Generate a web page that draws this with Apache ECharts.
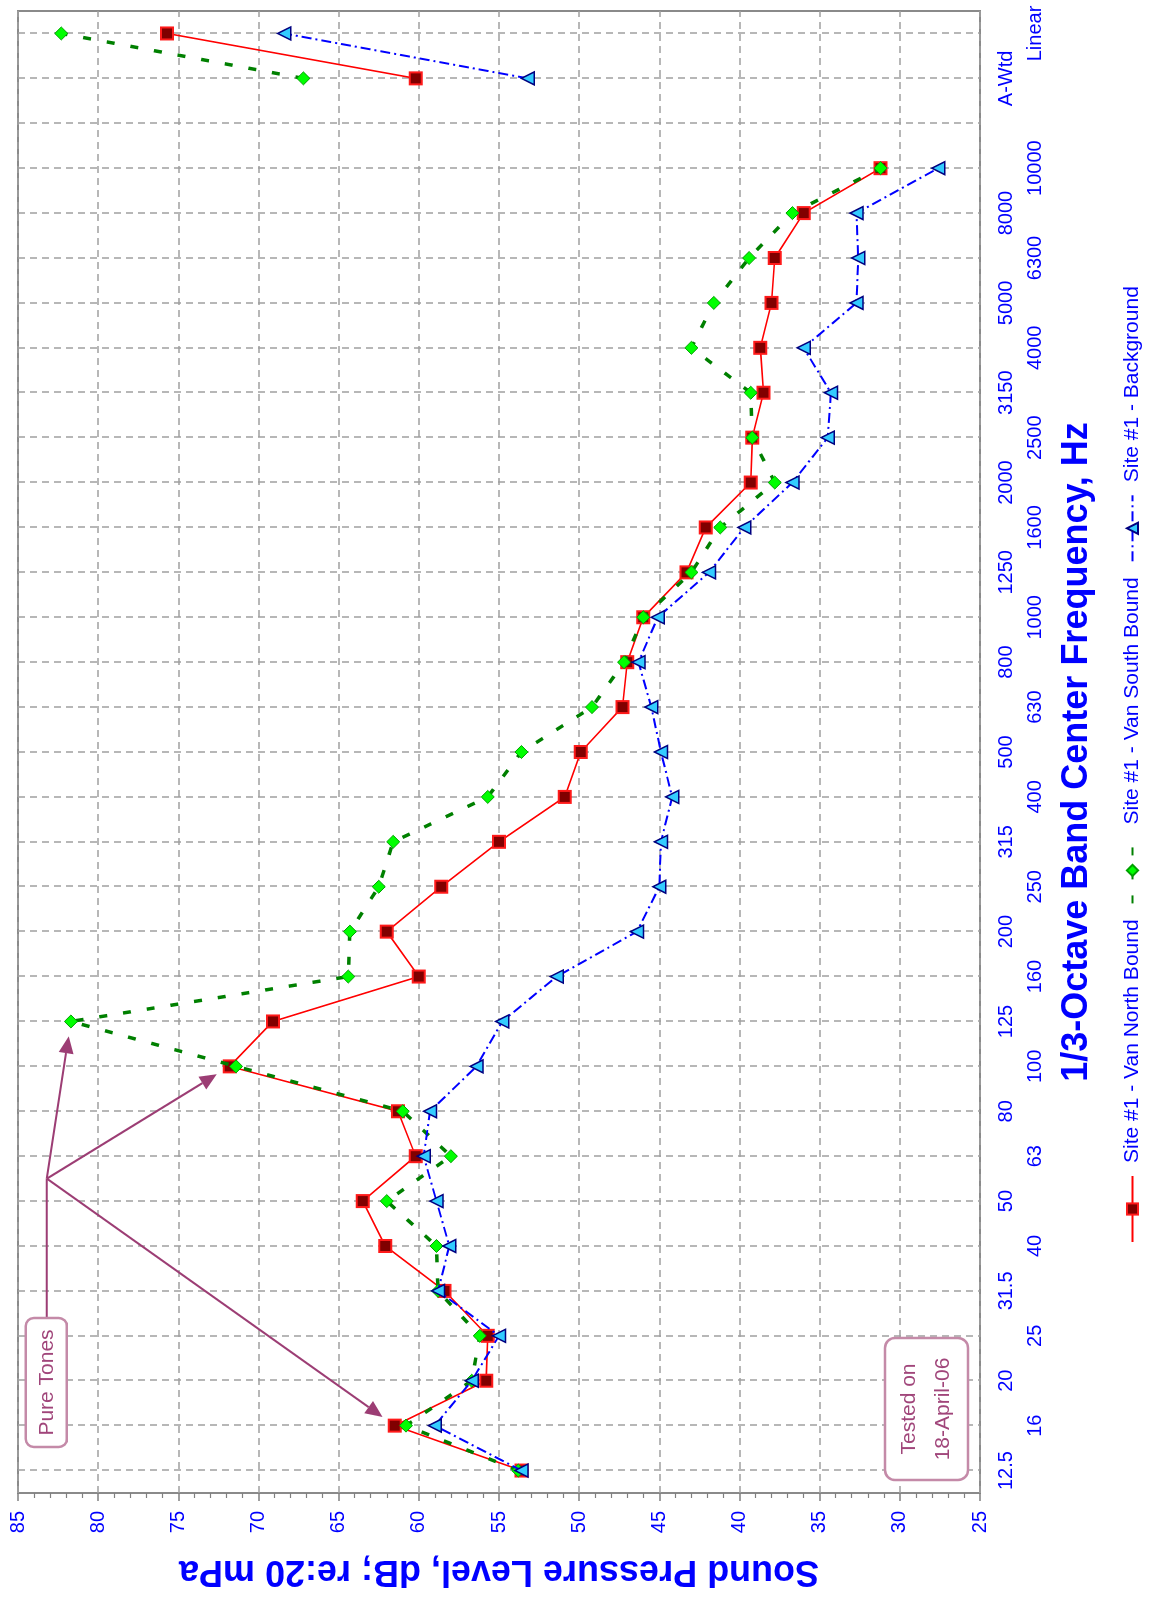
<!DOCTYPE html>
<html>
<head>
<meta charset="utf-8">
<script src="https://cdn.jsdelivr.net/npm/echarts@6/dist/echarts.min.js"></script>
<style>
  html, body { margin: 0; padding: 0; background: #ffffff; overflow: hidden; }
  #stage { position: absolute; left: 0; top: 0; width: 1153px; height: 1597px; overflow: hidden; background: #fff; }
  /* the chart is laid out landscape and turned a quarter turn counter-clockwise */
  #chart { position: absolute; left: 0; top: 0; width: 1597px; height: 1153px;
           transform-origin: 0 0; transform: translate(0, 1597px) rotate(-90deg); }
</style>
</head>
<body>
<div id="stage"><div id="chart"></div></div>
<script>
// 1/3-octave band centres (blank slot separates the broadband totals)
const bands = ['12.5','16','20','25','31.5','40','50','63','80','100','125','160','200','250','315','400',
               '500','630','800','1000','1250','1600','2000','2500','3150','4000','5000','6300','8000','10000',
               '','A-Wtd','Linear'];

// Sound pressure levels, dB re 20 uPa
const northBound = [53.6,61.5,55.8,55.7,58.4,62.1,63.5,60.2,61.3,71.8,69.1,60.0,62.0,58.6,55.0,50.9,
                    49.9,47.3,47.0,46.0,43.3,42.1,39.3,39.2,38.5,38.7,38.0,37.8,36.0,31.2,null,60.2,75.7];
const southBound = [53.8,60.8,56.7,56.2,58.8,58.9,62.0,58.0,61.0,71.4,81.7,64.4,64.3,62.5,61.6,55.7,
                    53.6,49.2,47.2,46.0,43.0,41.2,37.8,39.2,39.3,43.0,41.6,39.4,36.7,31.2,null,67.2,82.3];
const background = [53.6,59.0,56.7,55.0,58.8,58.1,58.9,59.7,59.3,56.4,54.8,51.4,46.4,45.0,44.9,44.2,
                    44.9,45.5,46.3,45.1,41.9,39.7,36.7,34.5,34.3,36.0,32.7,32.6,32.7,27.6,null,53.2,68.4];

const seriesNames = ['Site #1 - Van North Bound', 'Site #1 - Van South Bound', 'Site #1 - Background'];
const levelMin = 25, levelMax = 85, levelStep = 5;

const FONT = '"Liberation Sans", Arial, sans-serif';
const BLUE = '#0000ff';
const GRID_DASH = { color: '#a0a0a0', width: 1.5, type: [7, 5] };

const chart = echarts.init(document.getElementById('chart'), null, { renderer: 'canvas' });

// band labels alternate between two rows, counting only the labelled slots
function bandLabel(value, index) {
  if (!value) return '';
  let k = 0;
  for (let i = 0; i < index; i++) if (bands[i]) k++;
  return k % 2 === 0 ? value : '\n' + value;
}

chart.setOption({
  animation: false,
  backgroundColor: '#ffffff',
  textStyle: { fontFamily: FONT },
  grid: { left: 98, right: 11, top: 18, bottom: 173, show: true,
          borderColor: '#8a8a8a', borderWidth: 2, backgroundColor: '#ffffff' },
  legend: {
    left: 349, top: 1117, itemWidth: 66, itemHeight: 14, itemGap: 15,
    textStyle: { color: BLUE, fontSize: 21, fontFamily: FONT, padding: [0, 0, 0, 8] },
    data: seriesNames
  },
  xAxis: {
    type: 'category', data: bands, boundaryGap: true,
    axisLine: { show: false }, axisTick: { show: false },
    axisLabel: { interval: 0, color: BLUE, fontSize: 20, lineHeight: 29, margin: 12,
                 fontFamily: FONT, formatter: bandLabel },
    splitLine: { show: true, interval: 0, alignWithLabel: true, lineStyle: GRID_DASH },
    name: '1/3-Octave Band Center Frequency, Hz', nameLocation: 'middle', nameGap: 79,
    nameTextStyle: { color: BLUE, fontSize: 36, fontWeight: 'bold', fontFamily: FONT }
  },
  yAxis: {
    type: 'value', min: levelMin, max: levelMax, interval: levelStep,
    axisLine: { show: false },
    axisTick: { show: true, length: 8, lineStyle: { color: '#808080', width: 1.5 } },
    minorTick: { show: true, splitNumber: 5, length: 5, lineStyle: { color: '#808080', width: 1.2 } },
    axisLabel: { color: BLUE, fontSize: 20, margin: 18, fontFamily: FONT },
    splitLine: { show: true, lineStyle: GRID_DASH },
    name: 'Sound Pressure Level, dB; re:20 mPa', nameLocation: 'middle', nameGap: 60,
    nameTextStyle: { color: BLUE, fontSize: 36, fontWeight: 'bold', fontFamily: FONT }
  },
  series: [
    { name: seriesNames[0], type: 'line', data: northBound, connectNulls: false,
      symbol: 'rect', symbolSize: 12,
      lineStyle: { color: '#ff0000', width: 1.6 },
      itemStyle: { color: '#800000', borderColor: '#ff1a1a', borderWidth: 2 }, z: 3 },
    { name: seriesNames[1], type: 'line', data: southBound, connectNulls: false,
      symbol: 'diamond', symbolSize: 13,
      lineStyle: { color: '#008000', width: 3.5, type: [8, 16] },
      itemStyle: { color: '#00ff00', borderColor: '#00a000', borderWidth: 1 }, z: 4 },
    { name: seriesNames[2], type: 'line', data: background, connectNulls: false,
      symbol: 'triangle', symbolSize: 13,
      lineStyle: { color: '#0000ff', width: 2, type: [10, 4, 2, 4] },
      itemStyle: { color: '#33ccff', borderColor: '#000080', borderWidth: 1.5 }, z: 5 }
  ]
});

// Callouts: "Pure Tones" with arrows to the tonal peaks, and the test date box
const ANNO_STROKE = '#9c3d74', ANNO_BORDER = '#c48aa8', ANNO_TEXT = '#a0457a';
const px = (cat, v) => chart.convertToPixel({ gridIndex: 0 }, [cat, v]);
const a = px('50', 83.2), b = px('63', 83.2);
const hub = [(a[0] + b[0]) / 2, (a[1] + b[1]) / 2];
const targets = [
  px(bands[10], southBound[10]),
  px(bands[9], northBound[9]),
  px(bands[1], northBound[1])
];

const graphics = [
  { type: 'line', shape: { x1: 279, y1: hub[1], x2: hub[0], y2: hub[1] },
    style: { stroke: ANNO_STROKE, lineWidth: 2 }, z: 60 },
  { type: 'rect', shape: { x: 150, y: hub[1] - 21, width: 129, height: 41, r: 8 },
    style: { fill: '#ffffff', stroke: ANNO_BORDER, lineWidth: 2.5 }, z: 61 },
  { type: 'text', x: 214.5, y: hub[1],
    style: { text: 'Pure Tones', fill: ANNO_TEXT, fontSize: 21, fontFamily: FONT,
             align: 'center', verticalAlign: 'middle' }, z: 62 },
  { type: 'rect', shape: { x: 117, y: 885, width: 142, height: 83, r: 10 },
    style: { fill: '#ffffff', stroke: ANNO_BORDER, lineWidth: 2.5 }, z: 61 },
  { type: 'text', x: 188, y: 926.5,
    style: { text: 'Tested on\n18-April-06', fill: ANNO_TEXT, fontSize: 21, lineHeight: 34,
             fontFamily: FONT, align: 'center', verticalAlign: 'middle' }, z: 62 }
];

targets.forEach(t => {
  const dx = t[0] - hub[0], dy = t[1] - hub[1];
  const len = Math.sqrt(dx * dx + dy * dy);
  const ux = dx / len, uy = dy / len;
  const tip = [t[0] - ux * 15, t[1] - uy * 15];
  const base = [tip[0] - ux * 17, tip[1] - uy * 17];
  const nx = -uy * 7.5, ny = ux * 7.5;
  graphics.push({ type: 'line', shape: { x1: hub[0], y1: hub[1], x2: base[0], y2: base[1] },
                  style: { stroke: ANNO_STROKE, lineWidth: 2 }, z: 60 });
  graphics.push({ type: 'polygon',
                  shape: { points: [tip, [base[0] + nx, base[1] + ny], [base[0] - nx, base[1] - ny]] },
                  style: { fill: ANNO_STROKE }, z: 60 });
});

chart.setOption({ graphic: graphics });
</script>
</body>
</html>
